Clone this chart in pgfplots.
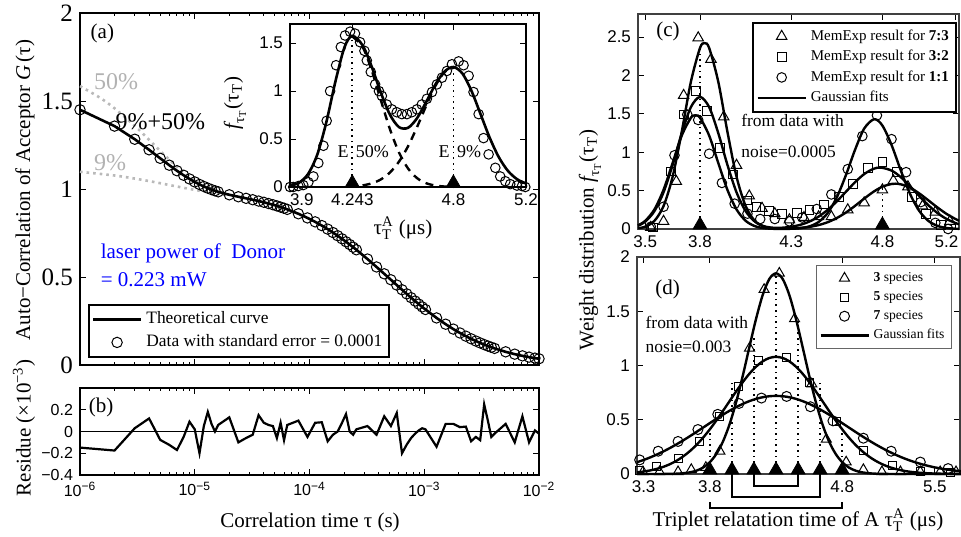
\documentclass[border=0pt]{standalone}
\usepackage{amsmath}
\usepackage{fontspec}
\setmainfont{Liberation Serif}
\newfontfamily\hel{Liberation Sans}
\usepackage{pgfplots}
\usepackage{pgfplotstable}
\pgfplotsset{compat=1.18}

% lag time tau (s), G(tau), residue (x 1e-3)
\pgfplotstableread{
t G r
1e-6 1.4503 -0.148
2e-6 1.3573 -0.175
3e-6 1.2827 0.03
4e-6 1.2227 0.12
5e-6 1.1743 -0.077
6e-6 1.1353 -0.123
7e-6 1.1037 -0.17
8e-6 1.0781 -0.05
9e-6 1.0572 0.09
1e-5 1.0402 0.02
1.1e-5 1.0260 -0.20
1.2e-5 1.0145 0.05
1.3e-5 1.0049 0.18
1.4e-5 0.9967 0.07
1.5e-5 0.9899 0.00
1.6e-5 0.9841 0.06
2e-5 0.9671 0.13
2.4e-5 0.9559 -0.10
2.8e-5 0.9470 -0.06
3.2e-5 0.9391 -0.03
3.6e-5 0.9315 0.15
4e-5 0.9245 0.08
4.4e-5 0.9175 0.06
4.8e-5 0.9107 0.05
5.2e-5 0.9039 -0.06
5.6e-5 0.8973 0.08
6e-5 0.8907 -0.08
6.4e-5 0.8843 0.06
8e-5 0.8593 0.10
9.6e-5 0.8357 -0.05
1.12e-4 0.8134 0.08
1.28e-4 0.7921 0.085
1.44e-4 0.7720 -0.09
1.6e-4 0.7528 -0.03
1.76e-4 0.7345 0.00
1.92e-4 0.7171 0.08
2.08e-4 0.7004 0.16
2.24e-4 0.6845 0.00
2.4e-4 0.6693 -0.03
2.56e-4 0.6547 0.02
3.2e-4 0.6021 0.05
3.84e-4 0.5571 -0.03
4.48e-4 0.5182 0.14
5.12e-4 0.4843 0.05
5.76e-4 0.4543 0.17
6.4e-4 0.4278 -0.20
7.04e-4 0.4041 -0.12
7.68e-4 0.3827 -0.06
8.32e-4 0.3635 -0.02
8.96e-4 0.3460 0.01
9.6e-4 0.3300 0.03
1.024e-3 0.3154 0.02
1.28e-3 0.2675 -0.14
1.536e-3 0.2318 0.07
1.792e-3 0.2040 0.07
2.048e-3 0.1819 0.04
2.304e-3 0.1639 0.045
2.56e-3 0.1489 -0.09
2.816e-3 0.1362 -0.05
3.072e-3 0.1254 -0.08
3.328e-3 0.1161 0.25
3.584e-3 0.1079 0.10
3.84e-3 0.1008 -0.05
4.096e-3 0.0944 -0.02
5.12e-3 0.0749 0.07
6.144e-3 0.0616 -0.10
7.168e-3 0.0520 0.14
8.192e-3 0.0447 -0.10
9.216e-3 0.0390 0.01
1e-2 0.0355 -0.02
}\fcsdata

% inset: two triplet components and their sum
\pgfplotstableread{
x g1 g2 s
3.90 0.0122 0 0.0122
3.95 0.0452 0 0.0452
4.00 0.1368 0 0.1368
4.05 0.3368 0.0001 0.3369
4.10 0.6744 0.0003 0.6747
4.15 1.0983 0.0008 1.0991
4.20 1.4545 0.0025 1.4570
4.243 1.5700 0.0058 1.5758
4.30 1.4607 0.0165 1.4772
4.35 1.2173 0.0376 1.2549
4.40 0.9079 0.0785 0.9864
4.45 0.6058 0.1501 0.7559
4.50 0.3618 0.2635 0.6253
4.55 0.1934 0.4239 0.6173
4.60 0.0924 0.6257 0.7181
4.65 0.0396 0.8470 0.8866
4.70 0.0152 1.0514 1.0666
4.75 0.0052 1.1970 1.2022
4.80 0.0016 1.2500 1.2516
4.85 0.0004 1.1825 1.1829
4.90 0.0001 1.0009 1.0010
4.95 0 0.7582 0.7582
5.00 0 0.5139 0.5139
5.05 0 0.3117 0.3117
5.10 0 0.1692 0.1692
5.15 0 0.0822 0.0822
5.20 0 0.0357 0.0357
}\insetdata

% panel (d): Gaussian fits for 3, 5 and 7 species
\pgfplotstableread{
x s3 s5 s7
3.25 0 0.0153 0.1087
3.30 0 0.0228 0.1296
3.35 0 0.0332 0.1532
3.40 0 0.0475 0.1795
3.45 0.0005 0.0665 0.2086
3.50 0.0013 0.0914 0.2403
3.55 0.0031 0.1233 0.2744
3.60 0.0072 0.1631 0.3108
3.65 0.0154 0.2116 0.3489
3.70 0.0312 0.2693 0.3884
3.75 0.0600 0.3362 0.4286
3.80 0.1087 0.4117 0.4690
3.85 0.1862 0.4945 0.5088
3.90 0.3015 0.5826 0.5473
3.95 0.4613 0.6732 0.5836
4.00 0.6668 0.7632 0.6170
4.05 0.9108 0.8486 0.6468
4.10 1.1755 0.9256 0.6723
4.15 1.4334 0.9902 0.6928
4.20 1.6517 1.0391 0.7078
4.25 1.7983 1.0696 0.7169
4.30 1.8500 1.0800 0.7200
4.35 1.7983 1.0696 0.7169
4.40 1.6517 1.0391 0.7078
4.45 1.4334 0.9902 0.6928
4.50 1.1755 0.9256 0.6723
4.55 0.9108 0.8486 0.6468
4.60 0.6668 0.7632 0.6170
4.65 0.4613 0.6732 0.5836
4.70 0.3015 0.5826 0.5473
4.75 0.1862 0.4945 0.5088
4.80 0.1087 0.4117 0.4690
4.85 0.0600 0.3362 0.4286
4.90 0.0312 0.2693 0.3884
4.95 0.0154 0.2116 0.3489
5.00 0.0072 0.1631 0.3108
5.05 0.0031 0.1233 0.2744
5.10 0.0013 0.0914 0.2403
5.15 0.0005 0.0665 0.2086
5.20 0 0.0475 0.1795
5.25 0 0.0332 0.1532
5.30 0 0.0228 0.1296
5.35 0 0.0153 0.1087
5.40 0 0.0101 0.0904
5.45 0 0.0066 0.0746
5.50 0 0.0042 0.0609
5.55 0 0.0026 0.0494
5.60 0 0.0016 0.0397
5.65 0 0.0010 0.0316
5.70 0 0.0006 0.0250
}\speciesfit

\pgfplotsset{
  matlab/.style={
    scale only axis, clip=false, anchor=south west,
    tick align=inside, major tick length=3pt, minor tick length=1.6pt,
    every tick/.style={black, line width=0.5pt},
    tick label style={font=\hel\fontsize{8.5}{9}\selectfont},
    axis line style={line width=0.9pt},
  },
  marklegend/.style={legend image code/.code={\draw[mark repeat=2,mark phase=2,##1] plot coordinates {(0pt,0pt)(12pt,0pt)(24pt,0pt)};}},
  linelegend/.style={legend image code/.code={\draw[##1] (0pt,0pt) -- (24pt,0pt);}},
}

% tau with subscript T and superscript A, and the distribution symbol
\newcommand{\tauTA}{$\text{τ}^{\text{A}}_{\text{T}}$}
\newcommand{\ftau}{$\textit{f}_{\text{τ}_{\text{T}}}$(τ$_{\text{T}}$)}

\begin{document}
\begin{tikzpicture}
\useasboundingbox (0pt,0pt) rectangle (480.5pt,268pt);

% ---------------- (a) correlation curve ----------------
\begin{axis}[matlab, at={(40pt,85.5pt)}, width=229.5pt, height=176pt,
  xmode=log, xmin=1e-6, xmax=1e-2, ymin=0, ymax=2,
  xtick={1e-6,1e-5,1e-4,1e-3,1e-2}, xticklabels={},
  ytick={0,0.5,1,1.5,2}, yticklabels={0,0.5,1,1.5,2},
  yticklabel style={font=\fontsize{12.5}{13}\selectfont},
  axis line style={line width=1.1pt},
  legend style={at={(0.017,0.02)}, anchor=south west, draw=black, line width=1pt,
    font=\fontsize{8.7}{9.5}\selectfont, cells={anchor=west}, inner sep=1.5pt, row sep=0pt},
]
\addplot[gray!55, dotted, line width=1.3pt, smooth, forget plot] coordinates {
 (1e-6,1.5846)(1.5e-6,1.5178)(2e-6,1.4583)(3e-6,1.3586)(4e-6,1.2795)(5e-6,1.2166)
 (6e-6,1.1666)(7e-6,1.1268)(8e-6,1.0950)(1e-5,1.0491)(1.2e-5,1.0190)(1.5e-5,0.9914)(2e-5,0.9672)};
\addplot[gray!55, dotted, line width=1.3pt, smooth, forget plot] coordinates {
 (1e-6,1.0977)(2e-6,1.0767)(3e-6,1.0593)(4e-6,1.0450)(5e-6,1.0329)(6e-6,1.0227)
 (8e-6,1.0067)(1e-5,0.9950)(1.2e-5,0.9860)(1.5e-5,0.9755)(2e-5,0.9626)};
\addplot[black, line width=1.3pt, linelegend] table[x=t,y=G]{\fcsdata};
\addlegendentry{Theoretical curve}
\addplot[black, only marks, mark=o, mark size=2.6pt, line width=0.5pt, marklegend] table[x=t,y=G]{\fcsdata};
\addlegendentry{Data with standard error = 0.0001}
\node[anchor=north west, font=\fontsize{10.5}{12}\selectfont] at (rel axis cs:0.008,0.99) {(a)};
\node[anchor=west, text=blue, font=\fontsize{10.5}{12}\selectfont] at (rel axis cs:0.03,0.318) {laser power of\ \ Donor};
\node[anchor=west, text=blue, font=\fontsize{10.5}{12}\selectfont] at (rel axis cs:0.03,0.243) {= 0.223 mW};
\node[anchor=west, text=gray!60, font=\fontsize{12}{13}\selectfont] at (axis cs:1.15e-6,1.61) {50\%};
\node[anchor=west, text=gray!60, font=\fontsize{12}{13}\selectfont] at (axis cs:1.15e-6,1.15) {9\%};
\node[anchor=west, inner sep=1pt, font=\fontsize{12}{13}\selectfont] at (axis cs:1.95e-6,1.38) {9\%+50\%};
\end{axis}

% ---------------- inset: lifetime distribution ----------------
\begin{axis}[matlab, at={(145pt,174.5pt)}, width=118pt, height=81.5pt,
  xmin=3.9, xmax=5.2, ymin=0, ymax=1.7,
  xtick={3.9,4.243,4.8,5.2}, xticklabels={\makebox[0pt][l]{3.9},4.243,4.8,5.2},
  ytick={0,0.5,1,1.5}, yticklabels={0,0.5,1,1.5},
  axis line style={line width=1pt}, axis background/.style={fill=white},
]
\addplot[black, line width=1.2pt, dash pattern=on 4pt off 3pt, smooth, restrict x to domain=4.243:4.8] table[x=x,y=g1]{\insetdata};
\addplot[black, line width=1.2pt, dash pattern=on 4pt off 3pt, smooth, restrict x to domain=4.25:4.8] table[x=x,y=g2]{\insetdata};
\addplot[black, line width=1.3pt, smooth] table[x=x,y=s]{\insetdata};
\addplot[black, only marks, mark=o, mark size=2.4pt, line width=0.5pt] coordinates {
 (3.900,0.00)(3.918,0.00)(3.946,0.01)(3.973,0.02)(4.001,0.05)(4.029,0.11)(4.056,0.25)
 (4.084,0.43)(4.102,0.69)(4.121,1.00)(4.154,1.27)(4.180,1.46)(4.203,1.58)(4.231,1.62)
 (4.258,1.60)(4.286,1.51)(4.310,1.42)(4.323,1.32)(4.345,1.20)(4.369,1.07)(4.390,1.00)
 (4.406,0.95)(4.433,0.86)(4.461,0.81)(4.488,0.78)(4.516,0.76)(4.544,0.76)(4.571,0.78)
 (4.599,0.81)(4.626,0.86)(4.654,0.92)(4.682,0.99)(4.709,1.07)(4.737,1.14)(4.764,1.21)
 (4.792,1.28)(4.829,1.31)(4.856,1.27)(4.884,1.16)(4.911,0.99)(4.939,0.76)(4.966,0.51)
 (4.994,0.34)(5.031,0.20)(5.058,0.11)(5.086,0.06)(5.113,0.03)(5.150,0.015)(5.178,0.01)(5.196,0.00)};
\addplot[black, dotted, line width=0.8pt] coordinates {(4.243,0)(4.243,1.57)};
\addplot[black, dotted, line width=0.8pt] coordinates {(4.8,0)(4.8,1.25)};
\addplot[black, only marks, mark=triangle*, mark size=4pt] coordinates {(4.243,0.042)(4.8,0.042)};
\node[anchor=east, font=\fontsize{9}{10}\selectfont, inner sep=1pt] at (axis cs:4.236,0.37) {E};
\node[anchor=west, font=\fontsize{9}{10}\selectfont, inner sep=1pt] at (axis cs:4.250,0.37) {50\%};
\node[anchor=east, font=\fontsize{9}{10}\selectfont, inner sep=1pt] at (axis cs:4.793,0.37) {E};
\node[anchor=west, font=\fontsize{9}{10}\selectfont, inner sep=1pt] at (axis cs:4.807,0.37) {9\%};
\end{axis}

% ---------------- (b) residue ----------------
\begin{axis}[matlab, at={(40pt,30.5pt)}, width=229.5pt, height=43.5pt,
  xmode=log, xmin=1e-6, xmax=1e-2, ymin=-0.4, ymax=0.4,
  xtick={1e-6,1e-5,1e-4,1e-3,1e-2},
  xticklabels={10\textsuperscript{−6},10\textsuperscript{−5},10\textsuperscript{−4},10\textsuperscript{−3},10\textsuperscript{−2}},
  ytick={-0.4,-0.2,0,0.2}, yticklabels={−0.4,−0.2,0,0.2},
  tick label style={font=\hel\fontsize{8}{9}\selectfont},
  axis line style={line width=1.1pt},
]
\addplot[black, line width=0.7pt] coordinates {(1e-6,0)(1e-2,0)};
\addplot[black, line width=1.1pt] table[x=t,y=r]{\fcsdata};
\node[anchor=north west, font=\fontsize{10.5}{12}\selectfont] at (rel axis cs:0.004,0.97) {(b)};
\end{axis}

% ---------------- (c) MemExp results ----------------
\begin{axis}[matlab, at={(319pt,153.5pt)}, width=160.5pt, height=107.5pt,
  xmin=3.46, xmax=5.22, ymin=0, ymax=2.8,
  xtick={3.5,3.8,4.3,4.8,5.2}, xticklabels={3.5,3.8,4.3,4.8,\makebox[0pt][r]{5.2\kern-1.5pt}},
  ytick={0,0.5,1,1.5,2,2.5}, yticklabels={0,0.5,1,1.5,2,2.5},
  axis line style={black!75, line width=0.6pt},
  legend style={at={(0.993,0.965)}, anchor=north east, draw=black, line width=1pt,
    font=\fontsize{7.5}{8.5}\selectfont, cells={anchor=west}, inner sep=1.5pt, row sep=-0.5pt},
]
\addplot[black, only marks, mark=triangle, mark size=3pt, line width=0.5pt, marklegend] coordinates {
 (3.53,0.02)(3.60,0.10)(3.67,0.62)(3.71,1.74)(3.79,2.49)(3.86,2.21)(3.93,1.46)(4.00,0.83)
 (4.07,0.43)(4.14,0.27)(4.21,0.20)(4.29,0.12)(4.37,0.15)(4.45,0.16)(4.52,0.16)(4.61,0.25)
 (4.70,0.34)(4.80,0.51)(4.86,0.63)(4.94,0.55)(5.02,0.30)(5.09,0.22)(5.17,0.10)};
\addlegendentry{MemExp result for \textbf{7:3}}
\addplot[black, only marks, mark=square, mark size=2.2pt, line width=0.5pt, marklegend] coordinates {
 (3.54,0.02)(3.64,0.75)(3.71,1.49)(3.78,1.80)(3.84,1.54)(3.91,1.06)(3.98,0.71)(4.06,0.37)
 (4.11,0.29)(4.18,0.23)(4.25,0.20)(4.33,0.21)(4.40,0.25)(4.48,0.32)(4.56,0.42)(4.64,0.59)
 (4.72,0.79)(4.80,0.87)(4.88,0.74)(4.96,0.42)(5.04,0.20)(5.12,0.05)};
\addlegendentry{MemExp result for \textbf{3:2}}
\addplot[black, only marks, mark=o, mark size=2.4pt, line width=0.5pt, marklegend] coordinates {
 (3.53,0.03)(3.60,0.29)(3.66,0.96)(3.73,1.49)(3.79,1.42)(3.85,0.98)(3.92,0.60)(3.99,0.33)
 (4.06,0.20)(4.13,0.13)(4.21,0.13)(4.29,0.10)(4.36,0.15)(4.44,0.26)(4.52,0.45)(4.61,0.78)
 (4.69,1.21)(4.77,1.48)(4.85,1.17)(4.93,0.74)(5.01,0.35)(5.09,0.08)(5.16,0.00)};
\addlegendentry{MemExp result for \textbf{1:1}}
\addplot[black, line width=1.2pt, smooth, linelegend] coordinates {
 (3.46,0.0098)(3.50,0.0308)(3.55,0.1063)(3.60,0.2988)(3.65,0.6827)(3.70,1.2689)(3.75,1.9182)
 (3.80,2.3584)(3.825,2.4200)(3.85,2.3584)(3.90,1.9182)(3.95,1.2689)(4.00,0.6827)(4.05,0.2988)
 (4.10,0.1065)(4.15,0.0312)(4.20,0.0084)(4.25,0.0043)(4.30,0.0068)(4.35,0.0139)(4.40,0.0277)
 (4.45,0.0512)(4.50,0.0886)(4.55,0.1429)(4.60,0.2150)(4.65,0.3018)(4.70,0.3954)(4.75,0.4833)
 (4.80,0.5513)(4.85,0.5867)(4.87,0.5900)(4.90,0.5827)(4.95,0.5400)(5.00,0.4669)(5.05,0.3767)
 (5.10,0.2836)(5.15,0.1992)(5.20,0.1306)(5.22,0.1081)};
\addlegendentry{Gaussian fits}
\addplot[black, line width=1.2pt, smooth, forget plot] coordinates {
 (3.46,0.0426)(3.50,0.0966)(3.55,0.2328)(3.60,0.4782)(3.65,0.8372)(3.70,1.2490)(3.75,1.5878)
 (3.80,1.7200)(3.85,1.5878)(3.90,1.2490)(3.95,0.8372)(4.00,0.4784)(4.05,0.2332)(4.10,0.0977)
 (4.15,0.0368)(4.20,0.0167)(4.25,0.0167)(4.30,0.0294)(4.35,0.0548)(4.40,0.0973)(4.45,0.1613)
 (4.50,0.2496)(4.55,0.3603)(4.60,0.4852)(4.65,0.6098)(4.70,0.7151)(4.75,0.7825)(4.79,0.8000)
 (4.85,0.7611)(4.90,0.6766)(4.95,0.5612)(5.00,0.4343)(5.05,0.3137)(5.10,0.2114)(5.15,0.1329)
 (5.20,0.0780)(5.22,0.0618)};
\addplot[black, line width=1.2pt, smooth, forget plot] coordinates {
 (3.46,0.0472)(3.50,0.1071)(3.55,0.2552)(3.60,0.5110)(3.65,0.8603)(3.70,1.2174)(3.75,1.4482)
 (3.775,1.4800)(3.80,1.4482)(3.85,1.2174)(3.90,0.8603)(3.95,0.5110)(4.00,0.2552)(4.05,0.1071)
 (4.10,0.0378)(4.15,0.0112)(4.20,0.0028)(4.25,0.0014)(4.30,0.0031)(4.35,0.0112)(4.40,0.0344)
 (4.45,0.0912)(4.50,0.2088)(4.55,0.4125)(4.60,0.7025)(4.65,1.0320)(4.70,1.3076)(4.755,1.4300)
 (4.80,1.3469)(4.85,1.0949)(4.90,0.7677)(4.95,0.4642)(5.00,0.2421)(5.05,0.1089)(5.10,0.0423)
 (5.15,0.0141)(5.20,0.0041)(5.22,0.0024)};
\addplot[black, dotted, line width=0.8pt, forget plot] coordinates {(3.8,0)(3.8,2.36)};
\addplot[black, dotted, line width=0.8pt, forget plot] coordinates {(4.8,0)(4.8,0.55)};
\addplot[black, only marks, mark=triangle*, mark size=4pt, forget plot] coordinates {(3.8,0.052)(4.8,0.052)};
\node[anchor=west, font=\fontsize{10.5}{12}\selectfont] at (rel axis cs:0.035,0.92) {(c)};
\node[anchor=west, font=\fontsize{8.7}{10}\selectfont] at (rel axis cs:0.30,0.507) {from data with};
\node[anchor=west, font=\fontsize{8.7}{10}\selectfont] at (rel axis cs:0.30,0.358) {noise=0.0005};
\end{axis}

% ---------------- (d) number of species ----------------
\begin{axis}[matlab, at={(318.5pt,31pt)}, width=161.5pt, height=108.5pt,
  xmin=3.25, xmax=5.69, ymin=0, ymax=2,
  xtick={3.3,3.8,4.8,5.5}, xticklabels={3.3,3.8,4.8,5.5},
  ytick={0,0.5,1,1.5,2}, yticklabels={0,0.5,1,1.5,2},
  axis line style={black!75, line width=0.6pt},
  legend style={at={(0.975,0.965)}, anchor=north east, draw=black!60, line width=0.6pt,
    font=\fontsize{6.8}{8}\selectfont, cells={anchor=west}, inner sep=1.5pt, row sep=-0.5pt},
]
\addplot[black, only marks, mark=triangle, mark size=2.9pt, line width=0.5pt, marklegend] coordinates {
 (3.295,0.02)(3.42,0.02)(3.56,0.02)(3.66,0.04)(3.77,0.06)(3.876,0.21)(4.10,1.16)(4.21,1.70)
 (4.325,1.85)(4.44,1.43)(4.57,0.83)(4.68,0.32)(4.83,0.11)(4.96,0.04)(5.10,0.02)(5.24,0.02)
 (5.39,0.02)(5.54,0.02)(5.66,0.02)};
\addlegendentry{\textbf{3} species}
\addplot[black, only marks, mark=square, mark size=2pt, line width=0.5pt, marklegend] coordinates {
 (3.27,0.03)(3.40,0.07)(3.56,0.145)(3.72,0.30)(3.876,0.53)(4.02,0.81)(4.166,1.05)(4.38,1.07)
 (4.55,0.84)(4.76,0.48)(4.96,0.22)(5.18,0.08)(5.39,0.02)(5.62,0.01)};
\addlegendentry{\textbf{5} species}
\addplot[black, only marks, mark=o, mark size=2.5pt, line width=0.5pt, marklegend] coordinates {
 (3.27,0.13)(3.41,0.21)(3.56,0.30)(3.71,0.41)(3.86,0.55)(4.02,0.65)(4.19,0.70)(4.38,0.715)
 (4.56,0.62)(4.73,0.49)(4.96,0.33)(5.17,0.21)(5.39,0.11)(5.60,0.05)};
\addlegendentry{\textbf{7} species}
\addplot[black, line width=1.2pt, smooth, linelegend] table[x=x,y=s3]{\speciesfit};
\addlegendentry{Gaussian fits}
\addplot[black, line width=1.2pt, smooth, forget plot] table[x=x,y=s5]{\speciesfit};
\addplot[black, line width=1.2pt, smooth, forget plot] table[x=x,y=s7]{\speciesfit};
\addplot[black, dotted, line width=0.8pt, forget plot] coordinates {(3.8,0)(3.8,0.45)};
\addplot[black, dotted, line width=0.8pt, forget plot] coordinates {(3.967,0)(3.967,0.84)};
\addplot[black, dotted, line width=0.8pt, forget plot] coordinates {(4.133,0)(4.133,1.25)};
\addplot[black, dotted, line width=0.8pt, forget plot] coordinates {(4.3,0)(4.3,1.85)};
\addplot[black, dotted, line width=0.8pt, forget plot] coordinates {(4.467,0)(4.467,1.42)};
\addplot[black, dotted, line width=0.8pt, forget plot] coordinates {(4.633,0)(4.633,0.84)};
\addplot[black, dotted, line width=0.8pt, forget plot] coordinates {(4.8,0)(4.8,0.47)};
\addplot[black, only marks, mark=triangle*, mark size=4pt, forget plot] coordinates {
 (3.8,0.037)(3.967,0.037)(4.133,0.037)(4.3,0.037)(4.467,0.037)(4.633,0.037)(4.8,0.037)};
% brackets grouping the species positions
\draw[black, line width=0.8pt] (axis cs:4.133,0) -- (axis cs:4.133,-0.111) -- (axis cs:4.467,-0.111) -- (axis cs:4.467,0);
\draw[black, line width=0.8pt] (axis cs:3.967,0) -- (axis cs:3.967,-0.213) -- (axis cs:4.633,-0.213) -- (axis cs:4.633,0);
\draw[black, line width=0.8pt] (axis cs:3.8,-0.26) -- (axis cs:3.8,-0.315) -- (axis cs:4.8,-0.315) -- (axis cs:4.8,-0.26);
\node[anchor=west, font=\fontsize{10.5}{12}\selectfont] at (rel axis cs:0.035,0.85) {(d)};
\node[anchor=west, font=\fontsize{8.7}{10}\selectfont] at (rel axis cs:0.005,0.70) {from data with};
\node[anchor=west, font=\fontsize{8.7}{10}\selectfont] at (rel axis cs:0.005,0.585) {nosie=0.003};
\end{axis}

% ---------------- axis titles ----------------
\node[rotate=90, font=\fontsize{10.5}{12}\selectfont] at (12.5pt,173pt) {Auto−Correlation of Acceptor \textit{G}\,(τ)};
\node[rotate=90, font=\fontsize{10.5}{12}\selectfont] at (12pt,54pt) {Residue (×10\textsuperscript{−3})};
\node[font=\fontsize{10.5}{12}\selectfont] at (155pt,7pt) {Correlation time τ (s)};
\node[font=\fontsize{10.5}{12}\selectfont] at (399pt,8pt) {Triplet relatation time of A \tauTA{} (μs)};
\node[rotate=90, font=\fontsize{10.5}{12}\selectfont] at (295pt,148pt) {Weight distribution \ftau};
\node[rotate=90, font=\fontsize{10.5}{12}\selectfont] at (117.5pt,216.5pt) {\ftau};
\node[font=\fontsize{10.5}{12}\selectfont] at (201.5pt,154pt) {\tauTA{} (μs)};
\end{tikzpicture}
\end{document}
